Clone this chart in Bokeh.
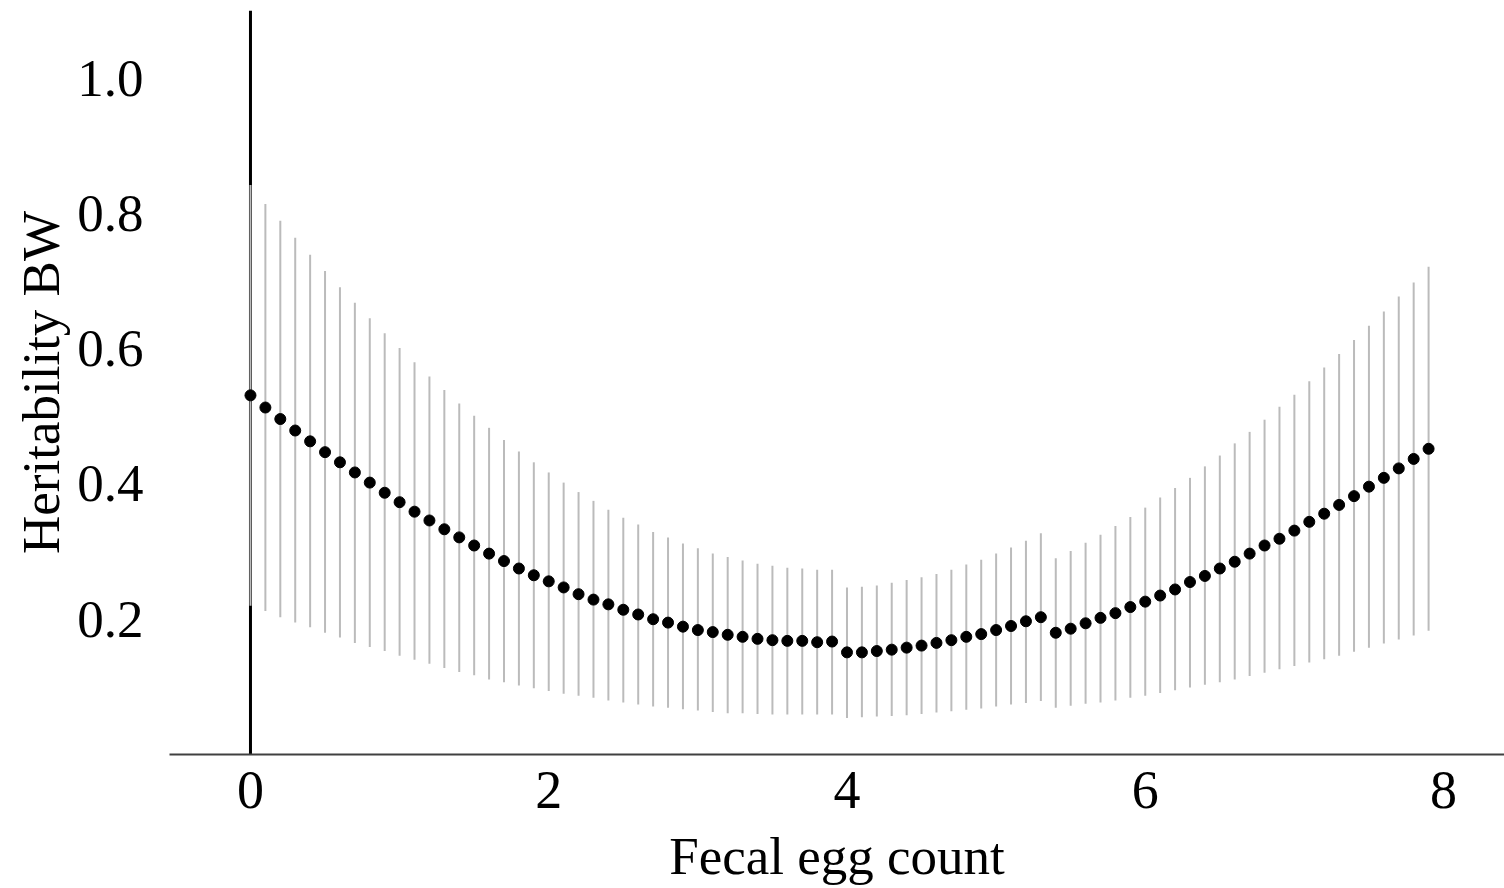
from bokeh.plotting import figure
from bokeh.models import Span, FixedTicker, Range1d, ColumnDataSource
from bokeh.embed import file_html
from bokeh.resources import INLINE

fec = [0.0, 0.1, 0.2, 0.3, 0.4, 0.5, 0.6, 0.7, 0.8, 0.9,
       1.0, 1.1, 1.2, 1.3, 1.4, 1.5, 1.6, 1.7, 1.8, 1.9,
       2.0, 2.1, 2.2, 2.3, 2.4, 2.5, 2.6, 2.7, 2.8, 2.9,
       3.0, 3.1, 3.2, 3.3, 3.4, 3.5, 3.6, 3.7, 3.8, 3.9,
       4.0, 4.1, 4.2, 4.3, 4.4, 4.5, 4.6, 4.7, 4.8, 4.9,
       5.0, 5.1, 5.2, 5.3, 5.4, 5.5, 5.6, 5.7, 5.8, 5.9,
       6.0, 6.1, 6.2, 6.3, 6.4, 6.5, 6.6, 6.7, 6.8, 6.9,
       7.0, 7.1, 7.2, 7.3, 7.4, 7.5, 7.6, 7.7, 7.8, 7.9]

h2 = [0.531, 0.513, 0.496, 0.479, 0.463, 0.447, 0.432, 0.417, 0.402, 0.387,
      0.373, 0.359, 0.346, 0.333, 0.321, 0.309, 0.297, 0.286, 0.275, 0.265,
      0.256, 0.247, 0.237, 0.229, 0.222, 0.214, 0.207, 0.200, 0.195, 0.189,
      0.184, 0.181, 0.177, 0.174, 0.171, 0.169, 0.168, 0.168, 0.166, 0.167,
      0.151, 0.151, 0.153, 0.155, 0.158, 0.161, 0.165, 0.169, 0.174, 0.178,
      0.184, 0.190, 0.197, 0.203, 0.180, 0.186, 0.194, 0.202, 0.209, 0.218,
      0.226, 0.235, 0.244, 0.255, 0.264, 0.275, 0.285, 0.297, 0.309, 0.319,
      0.331, 0.344, 0.356, 0.369, 0.382, 0.396, 0.409, 0.423, 0.437, 0.452]

upper = [0.842, 0.814, 0.789, 0.764, 0.739, 0.715, 0.691, 0.668, 0.645, 0.623,
         0.601, 0.580, 0.559, 0.539, 0.519, 0.501, 0.483, 0.465, 0.448, 0.432,
         0.417, 0.402, 0.388, 0.375, 0.362, 0.350, 0.340, 0.329, 0.321, 0.312,
         0.305, 0.297, 0.292, 0.287, 0.282, 0.279, 0.276, 0.275, 0.273, 0.273,
         0.247, 0.248, 0.250, 0.254, 0.258, 0.262, 0.267, 0.273, 0.281, 0.288,
         0.297, 0.306, 0.316, 0.327, 0.290, 0.301, 0.313, 0.325, 0.338, 0.351,
         0.365, 0.380, 0.394, 0.409, 0.426, 0.442, 0.460, 0.477, 0.495, 0.514,
         0.532, 0.552, 0.572, 0.592, 0.613, 0.634, 0.655, 0.677, 0.698, 0.721]

lower = [0.220, 0.212, 0.203, 0.195, 0.188, 0.180, 0.173, 0.165, 0.159, 0.153,
         0.146, 0.140, 0.134, 0.128, 0.122, 0.117, 0.111, 0.107, 0.102, 0.098,
         0.094, 0.090, 0.087, 0.084, 0.080, 0.077, 0.074, 0.071, 0.069, 0.067,
         0.065, 0.063, 0.061, 0.061, 0.060, 0.059, 0.059, 0.059, 0.059, 0.059,
         0.054, 0.055, 0.056, 0.057, 0.058, 0.060, 0.062, 0.064, 0.066, 0.068,
         0.071, 0.074, 0.076, 0.079, 0.069, 0.072, 0.075, 0.077, 0.080, 0.084,
         0.087, 0.091, 0.095, 0.099, 0.103, 0.107, 0.111, 0.116, 0.121, 0.126,
         0.131, 0.136, 0.141, 0.146, 0.152, 0.158, 0.164, 0.170, 0.176, 0.183]

x_ticks = [0, 2, 4, 6, 8]
y_ticks = [0.2, 0.4, 0.6, 0.8, 1.0]
y_tick_labels = ["0.2", "0.4", "0.6", "0.8", "1.0"]

FONT = "Liberation Serif"

src = ColumnDataSource(dict(x=fec, y=h2, lo=lower, hi=upper))

p = figure(width=1504, height=888, output_backend="svg", toolbar_location=None,
           x_range=Range1d(-0.543, 8.409), y_range=Range1d(0.0, 1.1),
           min_border_left=169, min_border_right=0, min_border_top=10,
           min_border_bottom=134)
p.outline_line_color = None
p.grid.grid_line_color = None
p.background_fill_color = "white"
p.border_fill_color = "white"

# vertical reference line at x = 0, drawn beneath the error bars
p.add_layout(Span(location=0, dimension="height", line_color="black", line_width=3,
                  level="underlay"))

p.segment(x0="x", y0="lo", x1="x", y1="hi", source=src, line_color="#bbbbbb", line_width=2)
p.scatter(x="x", y="y", source=src, size=11, fill_color="black", line_color="black")

xa = p.xaxis[0]
xa.ticker = FixedTicker(ticks=x_ticks)
xa.axis_line_color = "#404040"
xa.axis_line_width = 2
xa.major_tick_line_color = None
xa.minor_tick_line_color = None
xa.major_label_text_font = FONT
xa.major_label_text_font_size = "54px"
xa.major_label_text_color = "black"
xa.major_label_standoff = 11
xa.axis_label = "Fecal egg count"
xa.axis_label_text_font = FONT
xa.axis_label_text_font_size = "53px"
xa.axis_label_text_font_style = "normal"
xa.axis_label_text_color = "black"
xa.axis_label_standoff = 16

ya = p.yaxis[0]
ya.ticker = FixedTicker(ticks=y_ticks)
ya.major_label_overrides = {t: s for t, s in zip(y_ticks, y_tick_labels)}
ya.axis_line_color = None
ya.major_tick_line_color = None
ya.minor_tick_line_color = None
ya.major_label_text_font = FONT
ya.major_label_text_font_size = "53px"
ya.major_label_text_color = "black"
ya.major_label_standoff = 20
ya.axis_label = "Heritability BW"
ya.axis_label_text_font = FONT
ya.axis_label_text_font_size = "53px"
ya.axis_label_text_font_style = "normal"
ya.axis_label_text_color = "black"
ya.axis_label_standoff = 4

open("out.html", "w").write(file_html(p, INLINE))
